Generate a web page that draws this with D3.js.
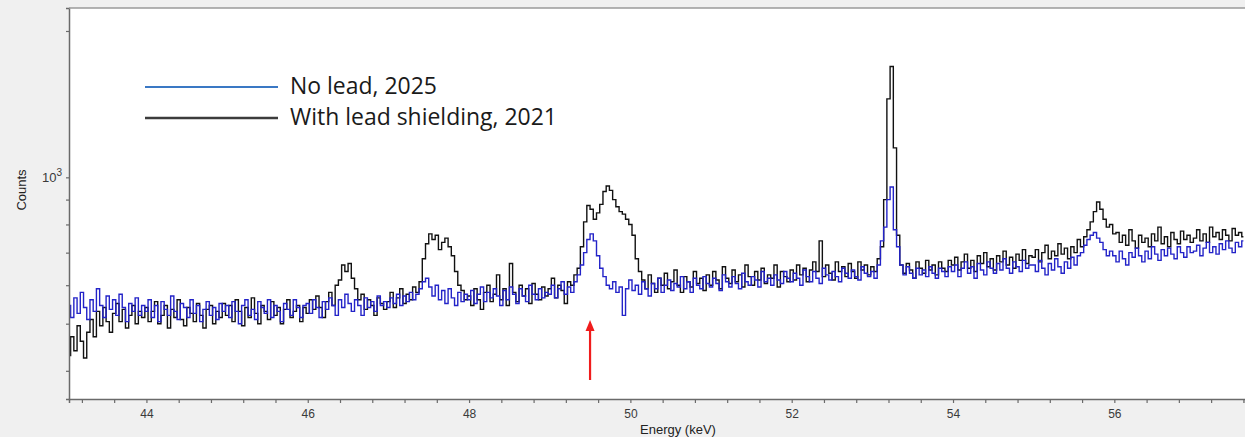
<!DOCTYPE html>
<html>
<head>
<meta charset="utf-8">
<script src="https://cdn.jsdelivr.net/npm/d3@7"></script>
<style>
  html, body { margin: 0; padding: 0; background: #f0f0f0; }
  svg { display: block; }
</style>
</head>
<body>
<svg id="chart" width="1245" height="437"></svg>
<script>
// ---------------- DATA ----------------
// Channel calibration of both spectra
const E_START = 43.0;   // keV, first channel
const E_STEP = 0.04;    // keV per channel

// "With lead shielding, 2021" counts per channel (one line per keV)
const blackCounts = [
  455,430,470,440,495, 460,425,480,510,470, 530,495,540,505,480, 525,550,505,535,490, 520,545,500,530,515, // 43
  540,505,530,555,500, 520,545,490,535,515, 560,510,495,540,525, 505,550,520,490,535, 545,500,530,515,550, // 44
  520,545,505,560,530, 495,540,515,565,525, 500,545,530,510,555, 520,540,500,535,560, 515,530,545,505,540, // 45
  525,560,535,570,540, 515,555,580,545,600, 615,660,640,665,620, 590,560,575,535,560, 545,520,565,550,535, // 46
  555,580,540,565,590, 550,575,560,595,580, 610,680,730,765,745, 760,710,735,750,720, 690,640,600,585,560, // 47
  570,545,590,560,535, 580,600,555,575,630, 560,590,545,665,580, 555,600,570,590,550, 605,575,560,595,570, // 48
  590,620,565,600,585, 550,610,600,630,650, 720,810,875,860,820, 845,880,935,960,940, 900,870,850,840,820, // 49
  800,760,680,640,615, 590,630,605,580,620, 600,635,590,610,645, 600,580,625,610,595, 640,605,620,585,630, // 50
  600,640,615,590,655, 620,605,645,610,630, 595,660,625,600,640, 615,650,605,630,620, 660,595,640,625,610, // 51
  645,615,660,630,650, 610,645,670,640,740, 625,660,635,615,670, 640,655,625,665,640, 620,670,645,660,630, // 52
  655,640,680,720,900, 1450,1690,1150,760,660, 635,665,645,620,670, 650,635,675,645,660, 630,670,650,640,675, // 53
  660,685,645,670,695, 650,675,640,690,665, 700,655,680,645,690, 670,705,660,685,650, 695,675,710,665,690, // 54
  685,710,670,700,725, 680,705,690,730,695, 715,680,720,700,745, 720,755,780,810,850, 890,860,820,790,800, // 55
  765,770,735,760,725, 780,740,715,760,735, 750,720,765,740,790, 730,755,720,770,745, 730,775,745,760,735, // 56
  750,780,740,765,735, 790,755,770,745,780, 760,740,785,760,770, 755                                        // 57
];

// "No lead, 2025" counts per channel
const blueCounts = [
  500,545,515,565,525, 580,540,510,560,530, 590,545,515,570,535, 560,520,575,540,505, 550,530,565,520,545, // 43
  530,560,515,545,505, 555,535,520,570,530, 510,550,540,515,560, 525,545,505,535,555, 520,540,510,550,530, // 44
  545,515,555,530,500, 545,560,520,535,510, 555,540,525,560,515, 545,530,505,550,535, 520,560,540,515,545, // 45
  550,525,560,540,515, 555,535,565,545,520, 560,540,575,550,530, 560,545,520,565,540, 555,530,570,545,555, // 46
  540,565,550,575,545, 570,555,580,560,575, 590,610,620,595,570, 600,560,585,550,590, 565,545,580,555,575, // 47
  560,585,550,575,595, 555,580,565,590,570, 545,585,560,595,575, 550,590,570,555,600, 575,560,590,565,580, // 48
  575,600,565,590,610, 575,595,580,610,630, 660,700,745,765,740, 690,650,625,600,590, 610,580,595,520,590, // 49
  615,585,600,575,610, 590,570,605,590,620, 580,600,615,585,605, 595,625,590,610,580, 620,600,590,625,605, // 50
  595,620,605,585,630, 610,595,625,605,590, 635,610,600,625,615, 595,640,610,620,600, 630,615,605,640,620, // 51
  610,635,620,600,645, 625,610,640,620,605, 650,630,615,640,625, 610,650,635,620,645, 625,615,655,635,625, // 52
  640,620,660,740,790, 900,955,780,720,660, 630,655,635,620,650, 630,645,625,655,635, 620,650,640,625,655, // 53
  640,660,625,650,670, 635,655,620,665,645, 630,670,650,635,665, 645,680,650,635,670, 655,640,675,650,660, // 54
  660,640,675,650,630, 665,645,680,655,635, 670,650,685,660,690, 700,725,745,760,770, 750,735,710,690,705, // 55
  690,670,705,680,660, 700,685,715,690,670, 705,680,720,695,675, 710,690,715,695,680, 720,700,685,720,700, // 56
  705,725,690,715,735, 700,720,695,730,710, 740,715,700,735,720, 740                                        // 57
];

const seriesNames = ["No lead, 2025", "With lead shielding, 2021"];
const xDomain = [43.04, 57.62];
const yDomain = [350, 2230];
const xTickStep = 0.4;
const xLabelTicks = [44, 46, 48, 50, 52, 54, 56];
const yTicks = [400, 500, 600, 700, 800, 900, 1000, 2000];
const yLabelTick = 1000;
const arrowEnergy = 49.5;

// ---------------- LAYOUT ----------------
const W = 1245, H = 437;
const plot = { left: 69, top: 8, right: 1245, bottom: 399 };

const svg = d3.select("#chart");
svg.append("rect").attr("width", W).attr("height", H).attr("fill", "#f0f0f0");
svg.append("rect")
  .attr("x", plot.left).attr("y", plot.top)
  .attr("width", plot.right - plot.left).attr("height", plot.bottom - plot.top)
  .attr("fill", "#ffffff");

const x = d3.scaleLinear().domain(xDomain).range([plot.left, plot.right]);
const y = d3.scaleLog().domain(yDomain).range([plot.bottom, plot.top]);

svg.append("defs").append("clipPath").attr("id", "clip")
  .append("rect")
  .attr("x", plot.left).attr("y", plot.top)
  .attr("width", plot.right - plot.left).attr("height", plot.bottom - plot.top);

const toPoints = arr => arr.map((c, i) => ({ e: E_START + i * E_STEP, c }));
const line = d3.line().x(d => x(d.e)).y(d => y(d.c)).curve(d3.curveStep);

const g = svg.append("g").attr("clip-path", "url(#clip)");
g.append("path").datum(toPoints(blackCounts))
  .attr("d", line).attr("fill", "none")
  .attr("stroke", "#111111").attr("stroke-width", 1.4).attr("stroke-linejoin", "miter");
g.append("path").datum(toPoints(blueCounts))
  .attr("d", line).attr("fill", "none")
  .attr("stroke", "#2323c8").attr("stroke-width", 1.4).attr("stroke-linejoin", "miter");

// ---------------- AXES ----------------
const xTicks = d3.range(Math.ceil(xDomain[0] / xTickStep), Math.floor(xDomain[1] / xTickStep) + 1)
  .map(k => +(k * xTickStep).toFixed(2));

const xAxis = d3.axisBottom(x).tickValues(xTicks).tickSize(4).tickPadding(6)
  .tickFormat(d => xLabelTicks.includes(d) ? d3.format("d")(d) : "");
const xg = svg.append("g").attr("transform", `translate(0,${plot.bottom})`).call(xAxis);
xg.select(".domain").attr("stroke", "#6a6a6a").attr("stroke-width", 1.5);
xg.selectAll(".tick line").attr("stroke", "#6a6a6a").attr("stroke-width", 1.2);
xg.selectAll(".tick text").attr("fill", "#3a3a3a")
  .style("font-family", "'Liberation Sans', Arial, sans-serif").style("font-size", "12px");

const yAxis = d3.axisLeft(y).tickValues(yTicks).tickSize(3).tickPadding(6).tickFormat(() => "");
const yg = svg.append("g").attr("transform", `translate(${plot.left},0)`).call(yAxis);
yg.select(".domain").attr("stroke", "#6a6a6a").attr("stroke-width", 1.5);
yg.selectAll(".tick line").attr("stroke", "#6a6a6a").attr("stroke-width", 1.2);

// 10^3 label
const yl = svg.append("text")
  .attr("x", plot.left - 7).attr("y", y(yLabelTick) + 5)
  .attr("text-anchor", "end").attr("fill", "#3a3a3a")
  .style("font-family", "'Liberation Sans', Arial, sans-serif").style("font-size", "13px");
yl.append("tspan").text("10");
yl.append("tspan").attr("dy", -6).style("font-size", "10px").text("3");

// top frame line
svg.append("line")
  .attr("x1", plot.left).attr("x2", plot.right)
  .attr("y1", plot.top).attr("y2", plot.top)
  .attr("stroke", "#9a9a9a").attr("stroke-width", 1.5);

// axis titles
svg.append("text")
  .attr("transform", `translate(26,190) rotate(-90)`)
  .attr("text-anchor", "middle").attr("fill", "#222")
  .style("font-family", "'Liberation Sans', Arial, sans-serif").style("font-size", "13px")
  .text("Counts");
svg.append("text")
  .attr("x", 678).attr("y", 434)
  .attr("text-anchor", "middle").attr("fill", "#222")
  .style("font-family", "'Liberation Sans', Arial, sans-serif").style("font-size", "13px")
  .text("Energy (keV)");

// ---------------- LEGEND ----------------
const legendColors = ["#3a78c4", "#3c3c3c"];
const legendY = [87, 118];
const lg = svg.append("g");
seriesNames.forEach((name, i) => {
  lg.append("line")
    .attr("x1", 145).attr("x2", 278)
    .attr("y1", legendY[i]).attr("y2", legendY[i])
    .attr("stroke", legendColors[i]).attr("stroke-width", i === 0 ? 2 : 2.5);
});
const legendTexts = seriesNames.map((name, i) =>
  lg.append("text")
    .attr("x", 290).attr("y", legendY[i] + 7)
    .attr("fill", "#1a1a1a")
    .style("font-family", "'Open Sans', 'Noto Sans', sans-serif")
    .style("font-size", "20px")
    .text(name));
// fit font size so the longer label spans ~267px as in the reference
const longW = legendTexts[1].node().getComputedTextLength();
const fs = 20 * 267 / longW;
legendTexts.forEach(t => t.style("font-size", fs + "px"));

// ---------------- ARROW ----------------
const ax = x(arrowEnergy);
svg.append("line")
  .attr("x1", ax).attr("x2", ax).attr("y1", 380).attr("y2", 328)
  .attr("stroke", "#f01c1c").attr("stroke-width", 2.2);
svg.append("path")
  .attr("d", d3.line()([[ax - 4.5, 331], [ax, 320], [ax + 4.5, 331]]) + "Z")
  .attr("fill", "#f01c1c");
</script>
</body>
</html>
